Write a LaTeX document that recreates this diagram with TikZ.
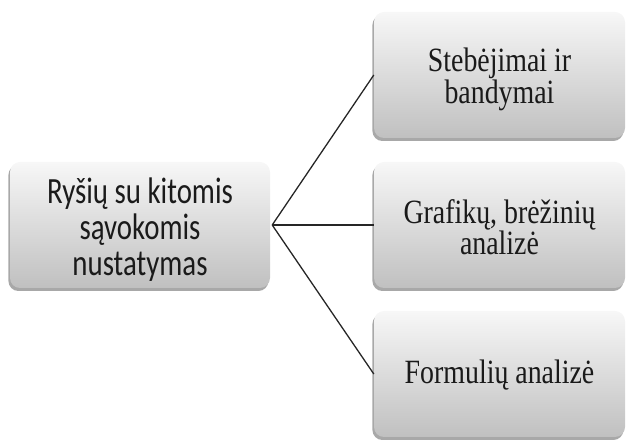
\documentclass[tikz,border=0pt]{standalone}
\usepackage{fontspec}
\setmainfont[FakeStretch=0.82]{Liberation Serif}
\newfontfamily\calib[FakeStretch=0.78]{Carlito}
\usetikzlibrary{shadows}
\definecolor{boxtop}{HTML}{F7F7F7}
\definecolor{boxbot}{HTML}{C0C0C0}
\definecolor{txt}{HTML}{1A1A1A}
\tikzset{
  card/.style={rounded corners=10pt, top color=boxtop, bottom color=boxbot, draw=none,
    drop shadow={shadow xshift=-1.6pt, shadow yshift=-3pt, fill=gray!75, opacity=0.9},
    inner sep=0pt},
  leftcard/.style={card, minimum width=260pt, minimum height=126pt},
  rightcard/.style={card, minimum width=251pt, minimum height=126pt},
  lefttext/.style={align=center, text=txt, inner sep=0pt, font=\calib\fontsize{37}{36}\selectfont},
  righttext/.style={align=center, text=txt, inner sep=0pt, font=\fontsize{34}{30}\selectfont},
  link/.style={line width=1.3pt, draw=black!85}
}
\begin{document}
\begin{tikzpicture}[x=1pt,y=-1pt]
\useasboundingbox (0,0) rectangle (627,443);
\node[leftcard] (L) at (140,225) {};
\node[rightcard] (A) at (499.5,75) {};
\node[rightcard] (B) at (499.5,225) {};
\node[rightcard] (C) at (499.5,374) {};
\node[lefttext] (Lt) at ([yshift=-5pt]L.center) {Ryšių su kitomis\\sąvokomis\\nustatymas};
\node[righttext] (At) at ([yshift=-4pt]A.center) {Stebėjimai ir\\bandymai};
\node[righttext] (Bt) at ([yshift=-2pt]B.center) {Grafikų, brėžinių\\analizė};
\node[righttext] (Ct) at ([yshift=-1pt]C.center) {Formulių analizė};
\coordinate (J) at ([xshift=2pt]L.east);
\draw[link] (J) -- (A.west);
\draw[link] (J) -- (B.west);
\draw[link] (J) -- (C.west);
\end{tikzpicture}
\end{document}
